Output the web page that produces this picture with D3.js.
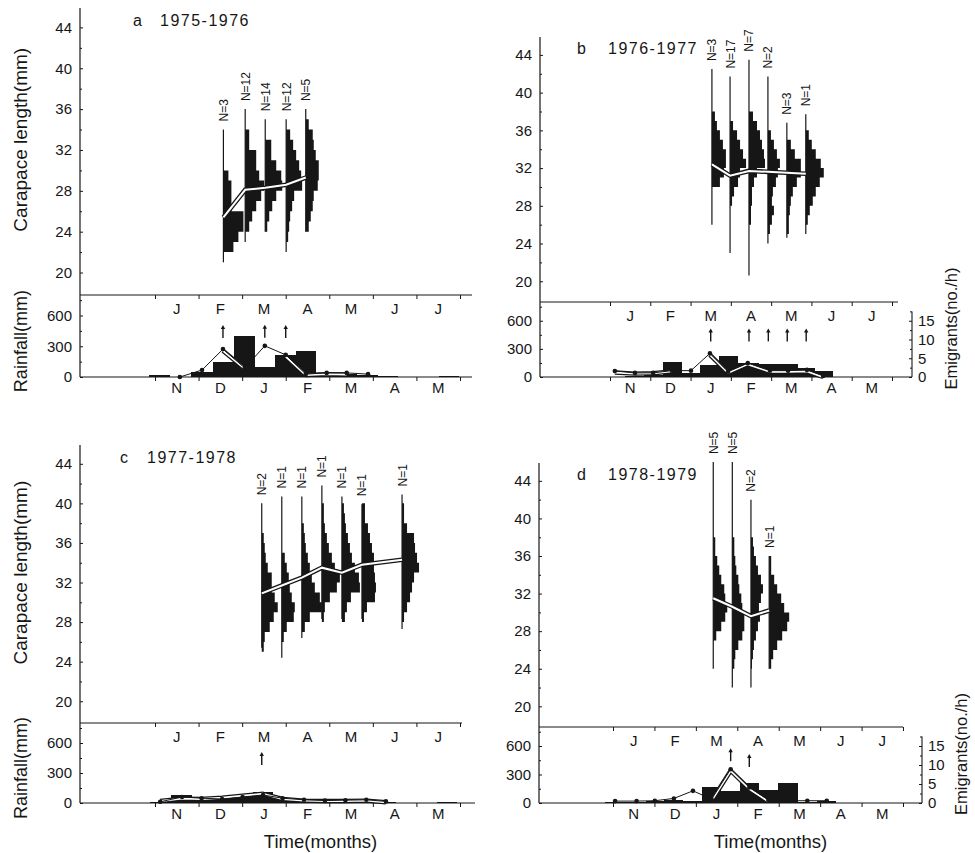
<!DOCTYPE html>
<html>
<head>
<meta charset="utf-8">
<script src="https://cdn.jsdelivr.net/npm/d3@7"></script>
<style>
  body { margin: 0; background: #fff; }
  svg { display: block; font-family: "Liberation Sans", Arial, sans-serif; }
</style>
</head>
<body>
<svg id="fig" width="975" height="853"></svg>
<script>
// axis labels and ticks
const upperMonths = ["J", "F", "M", "A", "M", "J", "J"];
const lowerMonths = ["N", "D", "J", "F", "M", "A", "M"];
const lengthTicks = [20, 24, 28, 32, 36, 40, 44];
const rainTicks = [0, 300, 600];
const emigTicks = [0, 5, 10, 15];
const panelLetters = ["a", "b", "c", "d"];
const panelYears = ["1975-1976", "1976-1977", "1977-1978", "1978-1979"];

// sampling dates, in months counted from 1 November
// rainfall (mm) per fortnight, emigrants (no./h), second emigrant trace
const datesA = [0.1, 0.57, 1.08, 1.56, 2.06, 2.52, 3.0, 3.46, 3.94, 4.4, 4.89, 5.35, 5.82, 6.28, 6.75];
const rainA = [15, 0, 50, 150, 400, 100, 215, 250, 40, 25, 15, 10, 0, 0, 8];
const emigA = [null, 0, 1.7, 6.8, 2.2, 7.6, 5.4, 0.7, 1.0, 1.0, 0.7, null, null, null, null];
const emigA2 = [null, 0, null, 6.4, 2.0, null, 5.0, 0.5, 0.7, 0.6, null, null, null, null, null];
const arrowsA = [1.56, 2.52, 3.0];

const datesB = [0.12, 0.62, 1.07, 1.54, 2.01, 2.48, 2.93, 3.42, 3.97, 4.42, 4.89, 5.29];
const rainB = [5, 10, 20, 160, 45, 128, 223, 146, 138, 138, 96, 67];
const emigB = [1.6, 1.1, 1.1, 1.7, 1.7, 6.3, 1.4, 3.7, 1.7, 1.7, 1.9, 0.3];
const emigB2 = [1.2, 0.9, 1.0, 1.5, null, 5.9, 1.1, 3.4, 1.4, 1.4, 1.5, 0.0];
const arrowsB = [2.5, 3.45, 3.93, 4.4, 4.87];

const datesC = [0.12, 0.62, 1.07, 1.54, 2.01, 2.48, 2.93, 3.42, 3.9, 4.37, 4.85, 5.3, 5.77, 6.24, 6.7];
const rainC = [15, 80, 35, 50, 85, 110, 45, 30, 25, 20, 20, 10, 0, 0, 12];
const emigC = [0.3, 1.5, 1.2, 1.0, 1.5, 2.0, 1.2, 0.8, 0.6, 0.7, 0.8, 0.4, null, null, null];
const emigC2 = [0.5, 1.1, 1.0, 1.3, 1.8, 2.3, 1.0, 0.6, 0.5, 0.5, 0.6, 0.2, null, null, null];
const arrowsC = [2.45];

const datesD = [0.05, 0.57, 1.01, 1.47, 1.93, 2.38, 2.84, 3.29, 3.75, 4.23, 4.69, 5.16, 5.62, 6.09, 6.55];
const rainD = [10, 10, 20, 30, 20, 165, 130, 215, 140, 215, 15, 20, 0, 0, 5];
const emigD = [0.5, 0.5, 0.6, 1.2, 3.2, 1.0, 8.9, 4.1, 0.8, 0.6, 0.6, 0.6, null, null, null];
const emigD2 = [null, null, null, null, null, 0.6, 8.5, 3.7, 0.4, null, null, null, null, null, null];
const arrowsD = [2.84, 3.29];

// size-frequency histograms: date, sample label, size range (mm),
// upper bound of first 1 mm class, frequencies (%) from that class downward
const histA = [
  { t: 1.57, n: "N=3",  min: 21, max: 34, top: 30, f: [5, 8, 8, 8, 20, 20, 15, 10] },
  { t: 2.07, n: "N=12", min: 23, max: 36, top: 34, f: [4, 4, 11, 11, 14, 19, 16, 11, 7, 4] },
  { t: 2.53, n: "N=14", min: 24, max: 35, top: 33, f: [6, 6, 11, 16, 17, 11, 7, 4, 2] },
  { t: 3.01, n: "N=12", min: 22, max: 35, top: 34, f: [4, 7, 10, 13, 15, 16, 8, 6, 4, 3, 2] },
  { t: 3.46, n: "N=5",  min: 24, max: 36, top: 35, f: [3, 7, 8, 10, 13, 13, 12, 8, 7, 5, 3] }
];
const meanA = [25.4, 28.1, 28.3, 28.6, 29.3];

const histB = [
  { t: 2.53, n: "N=3",  min: 26, max: 42.5, top: 38, f: [3, 5, 8, 11, 14, 14, 12, 8] },
  { t: 2.98, n: "N=17", min: 23, max: 41.7, top: 37, f: [3, 7, 10, 13, 16, 10, 8, 4, 2] },
  { t: 3.45, n: "N=7",  min: 20.6, max: 43.5, top: 38, f: [4, 8, 11, 13, 15, 16, 8, 5, 3, 3, 2, 2] },
  { t: 3.92, n: "N=2",  min: 24, max: 41.7, top: 36, f: [3, 6, 9, 12, 10, 8, 5, 4, 6, 4, 2] },
  { t: 4.39, n: "N=3",  min: 24.6, max: 36.8, top: 35, f: [4, 8, 14, 14, 10, 6, 4, 3, 2, 2] },
  { t: 4.86, n: "N=1",  min: 25, max: 37.7, top: 36, f: [3, 6, 10, 15, 18, 14, 10, 7, 4, 2] }
];
const meanB = [32.4, 31.2, 31.7, 31.6, 31.5, 31.4];

const histC = [
  { t: 2.45, n: "N=2", min: 25.4, max: 40,   top: 37, f: [2, 3, 4, 6, 10, 10, 13, 16, 12, 8, 3, 2] },
  { t: 2.91, n: "N=1", min: 24.4, max: 40.7, top: 35, f: [3, 5, 7, 8, 10, 13, 12, 5, 2] },
  { t: 3.37, n: "N=1", min: 26.4, max: 40.7, top: 38, f: [2, 3, 4, 6, 8, 10, 13, 18, 20, 8, 3] },
  { t: 3.83, n: "N=1", min: 28.3, max: 41.8, top: 40, f: [2, 2, 3, 5, 7, 10, 13, 18, 15, 8, 3, 2] },
  { t: 4.29, n: "N=1", min: 28.3, max: 40.7, top: 40, f: [2, 3, 4, 6, 8, 10, 13, 17, 18, 9, 5, 3] },
  { t: 4.75, n: "N=1", min: 28.3, max: 39.9, top: 40, f: [3, 3, 6, 8, 10, 12, 12, 13, 14, 13, 5, 2] },
  { t: 5.67, n: "N=1", min: 27.3, max: 40.9, top: 40, f: [2, 2, 5, 12, 13, 15, 17, 12, 10, 8, 5, 2] }
];
const meanC = [30.9, 31.7, 32.5, 33.5, 33.0, 33.8, 34.3];

const histD = [
  { t: 2.42, n: "N=5", min: 24, max: 46, top: 38, f: [2, 2, 4, 6, 8, 11, 12, 14, 12, 8, 3] },
  { t: 2.88, n: "N=5", min: 22, max: 46, top: 38, f: [2, 2, 3, 4, 6, 7, 9, 10, 12, 12, 10, 6, 3, 2] },
  { t: 3.33, n: "N=2", min: 22, max: 42, top: 38, f: [2, 3, 5, 7, 10, 12, 10, 8, 9, 7, 5, 3, 2, 1] },
  { t: 3.77, n: "N=1", min: 24, max: 36, top: 36, f: [2, 2, 5, 8, 12, 15, 20, 18, 13, 8, 4, 2] }
];
const meanD = [31.5, 30.6, 29.6, 30.2];

// page layout of the four panels
const layouts = [
  { left: 80,  top: 8,   sep: 295, base: 377, sepEnd: 472, baseEnd: 472, t0: 155, t1: 460, right: null, letterX: 133, yearX: 160, leftTitles: true,  timeTitle: false },
  { left: 540, top: 37,  sep: 302, base: 377, sepEnd: 898, baseEnd: 912, t0: 610, t1: 892, right: 912,  letterX: 577, yearX: 608, leftTitles: false, timeTitle: false },
  { left: 80,  top: 445, sep: 723, base: 803, sepEnd: 462, baseEnd: 475, t0: 155, t1: 460, right: null, letterX: 120, yearX: 147, leftTitles: true,  timeTitle: true },
  { left: 539, top: 463, sep: 727, base: 803, sepEnd: 903, baseEnd: 922, t0: 613, t1: 903, right: 922,  letterX: 577, yearX: 608, leftTitles: false, timeTitle: true }
];

const panelData = [
  { dates: datesA, rain: rainA, emig: emigA, emig2: emigA2, arrows: arrowsA, hist: histA, mean: meanA },
  { dates: datesB, rain: rainB, emig: emigB, emig2: emigB2, arrows: arrowsB, hist: histB, mean: meanB },
  { dates: datesC, rain: rainC, emig: emigC, emig2: emigC2, arrows: arrowsC, hist: histC, mean: meanC },
  { dates: datesD, rain: rainD, emig: emigD, emig2: emigD2, arrows: arrowsD, hist: histD, mean: meanD }
];

const ink = "#161616";
const svg = d3.select("#fig");

function styleAxis(sel, size) {
  sel.attr("font-size", size).attr("font-family", null).attr("color", ink);
  sel.selectAll("text").attr("fill", ink);
}

function drawPanel(L, D, p) {
  const g = svg.append("g");
  const x = d3.scaleLinear().domain([0, 7]).range([L.t0, L.t1]);
  const y = d3.scaleLinear().domain([17.8, 45.9]).range([L.sep, L.top]);
  const r = d3.scaleLinear().domain([0, 800]).range([L.base, L.sep]);
  const e = d3.scaleLinear().domain([0, 20]).range([L.base, L.sep]);
  const w = d3.scaleLinear().domain([0, 100]).range([0, 100]);

  // frame lines
  g.append("line").attr("x1", L.left).attr("x2", L.left).attr("y1", L.top).attr("y2", L.base)
    .attr("stroke", ink).attr("stroke-width", 1.2);
  g.append("line").attr("x1", L.left).attr("x2", L.sepEnd).attr("y1", L.sep).attr("y2", L.sep)
    .attr("stroke", ink).attr("stroke-width", 1.2);

  // carapace length axis
  g.append("g").attr("transform", `translate(${L.left},0)`)
    .call(d3.axisLeft(y).tickValues(lengthTicks).tickSize(-3).tickPadding(8).tickSizeOuter(0))
    .call(s => s.select(".domain").remove())
    .call(s => styleAxis(s, 15));
  g.append("g").attr("transform", `translate(${L.left},0)`)
    .call(d3.axisLeft(y).tickValues(d3.range(22, 46, 4)).tickSize(-2).tickFormat(""))
    .call(s => s.select(".domain").remove())
    .call(s => styleAxis(s, 15));

  // rainfall axis
  g.append("g").attr("transform", `translate(${L.left},0)`)
    .call(d3.axisLeft(r).tickValues(rainTicks).tickSize(-3).tickPadding(8).tickSizeOuter(0))
    .call(s => s.select(".domain").remove())
    .call(s => styleAxis(s, 15));
  g.append("g").attr("transform", `translate(${L.left},0)`)
    .call(d3.axisLeft(r).tickValues([150, 450, 750]).tickSize(-2).tickFormat(""))
    .call(s => s.select(".domain").remove())
    .call(s => styleAxis(s, 15));

  // month ticks on both time axes
  [L.sep, L.base].forEach(yy => {
    g.append("g").attr("transform", `translate(0,${yy})`)
      .call(d3.axisBottom(x).tickValues(d3.range(0, 8)).tickSize(4).tickFormat(""))
      .call(s => s.select(".domain").remove())
      .call(s => styleAxis(s, 15));
  });
  g.selectAll(".upm").data(upperMonths).join("text")
    .attr("x", (d, i) => x(i + 0.5)).attr("y", L.sep + 19)
    .attr("text-anchor", "middle").attr("font-size", 15).attr("fill", ink).text(d => d);
  g.selectAll(".lom").data(lowerMonths).join("text")
    .attr("x", (d, i) => x(i + 0.5)).attr("y", L.base + 16)
    .attr("text-anchor", "middle").attr("font-size", 15).attr("fill", ink).text(d => d);

  // emigrants axis on the right
  if (L.right) {
    g.append("line").attr("x1", L.right).attr("x2", L.right).attr("y1", e(17.5)).attr("y2", L.base)
      .attr("stroke", ink).attr("stroke-width", 1.1);
    g.append("g").attr("transform", `translate(${L.right},0)`)
      .call(d3.axisRight(e).tickValues(emigTicks).tickSize(-3).tickPadding(6).tickSizeOuter(0))
      .call(s => s.select(".domain").remove())
      .call(s => styleAxis(s, 15));
    g.append("g").attr("transform", `translate(${L.right},0)`)
      .call(d3.axisRight(e).tickValues([2.5, 7.5, 12.5, 17.5]).tickSize(-2).tickFormat(""))
      .call(s => s.select(".domain").remove())
      .call(s => styleAxis(s, 15));
    g.append("text")
      .attr("transform", `translate(${L.right + 45},${(L.sep + L.base) / 2 - 11}) rotate(-90)`)
      .attr("text-anchor", "middle").attr("font-size", 16.5).attr("fill", ink)
      .text("Emigrants(no./h)");
  }

  if (L.leftTitles) {
    g.append("text")
      .attr("transform", `translate(27,${y(33)}) rotate(-90)`)
      .attr("text-anchor", "middle").attr("font-size", 19).attr("fill", ink)
      .text("Carapace length(mm)");
    g.append("text")
      .attr("transform", `translate(27,${r(350)}) rotate(-90)`)
      .attr("text-anchor", "middle").attr("font-size", 18).attr("fill", ink)
      .text("Rainfall(mm)");
  }
  if (L.timeTitle) {
    g.append("text").attr("x", x(3.8)).attr("y", L.base + 45)
      .attr("text-anchor", "middle").attr("font-size", 18.5).attr("fill", ink)
      .text("Time(months)");
  }

  // panel title
  g.append("text").attr("x", L.letterX).attr("y", y(44) - 1)
    .attr("font-size", 16).attr("fill", ink).text(panelLetters[p]);
  g.append("text").attr("x", L.yearX).attr("y", y(44) - 1)
    .attr("font-size", 16).attr("letter-spacing", 1.5).attr("fill", ink).text(panelYears[p]);

  // rainfall bars, each spanning halfway to the neighbouring sample dates
  const dts = D.dates;
  const rainRows = dts.map((t, k) => ({
    a: k > 0 ? (dts[k - 1] + t) / 2 : t - 0.235,
    b: k < dts.length - 1 ? (dts[k + 1] + t) / 2 : t + 0.235,
    v: D.rain[k]
  })).filter(o => o.v > 0);
  g.selectAll(".rain").data(rainRows).join("rect")
    .attr("x", o => x(o.a))
    .attr("width", o => x(o.b) - x(o.a))
    .attr("y", o => r(o.v))
    .attr("height", o => L.base - r(o.v))
    .attr("fill", ink)
    .attr("shape-rendering", "crispEdges");

  g.append("line").attr("x1", L.left).attr("x2", L.baseEnd).attr("y1", L.base).attr("y2", L.base)
    .attr("stroke", ink).attr("stroke-width", 1.2);

  // emigrant traces
  const line = d3.line().defined(q => q[1] != null).x(q => x(q[0])).y(q => e(q[1]));
  const pts2 = dts.map((t, k) => [t, D.emig2[k]]);
  g.append("path").attr("d", line(pts2)).attr("fill", "none")
    .attr("stroke", ink).attr("stroke-width", 4.4).attr("stroke-linejoin", "round");
  g.append("path").attr("d", line(pts2)).attr("fill", "none")
    .attr("stroke", "#fff").attr("stroke-width", 1.9).attr("stroke-linejoin", "round");
  const pts1 = dts.map((t, k) => [t, D.emig[k]]);
  g.append("path").attr("d", line(pts1)).attr("fill", "none")
    .attr("stroke", ink).attr("stroke-width", 1);
  g.selectAll(".dot").data(pts1.filter(q => q[1] != null)).join("circle")
    .attr("cx", q => x(q[0])).attr("cy", q => e(q[1])).attr("r", 2.3).attr("fill", ink);

  // arrows marking emigration samples
  D.arrows.forEach(t => {
    const k = d3.minIndex(dts, d => Math.abs(d - t));
    const ev = D.emig[k] == null ? 0 : D.emig[k];
    const bottom = Math.min(r(380), e(ev) - 8);
    const top = bottom - 13;
    const ax = x(t);
    g.append("line").attr("x1", ax).attr("x2", ax).attr("y1", bottom).attr("y2", top + 2)
      .attr("stroke", ink).attr("stroke-width", 1.4);
    g.append("path").attr("d", `M${ax - 2.2},${top + 4}L${ax},${top}L${ax + 2.2},${top + 4}Z`)
      .attr("fill", ink);
  });

  // size-frequency histograms drawn as one stepped outline each
  D.hist.forEach(h => {
    const hx = x(h.t);
    g.append("line").attr("x1", hx).attr("x2", hx).attr("y1", y(h.min)).attr("y2", y(h.max))
      .attr("stroke", ink).attr("stroke-width", 1.2);
    let path = `M${hx},${y(h.top)}`;
    h.f.forEach((v, j) => { path += `H${hx + w(v)}V${y(h.top - j - 1)}`; });
    path += `H${hx}Z`;
    g.append("path").attr("d", path).attr("fill", ink);
    g.append("text")
      .attr("transform", `translate(${hx + 4.5},${y(h.max) - 8}) rotate(-90)`)
      .attr("font-size", 12).attr("fill", ink).text(h.n);
  });

  // mean size line
  const meanPts = D.hist.map((h, k) => [h.t, D.mean[k]]);
  const mline = d3.line().x(q => x(q[0])).y(q => y(q[1]));
  g.append("path").attr("d", mline(meanPts)).attr("fill", "none")
    .attr("stroke", ink).attr("stroke-width", 4.6);
  g.append("path").attr("d", mline(meanPts)).attr("fill", "none")
    .attr("stroke", "#fff").attr("stroke-width", 2);
}

layouts.forEach((L, p) => drawPanel(L, panelData[p], p));
</script>
</body>
</html>
